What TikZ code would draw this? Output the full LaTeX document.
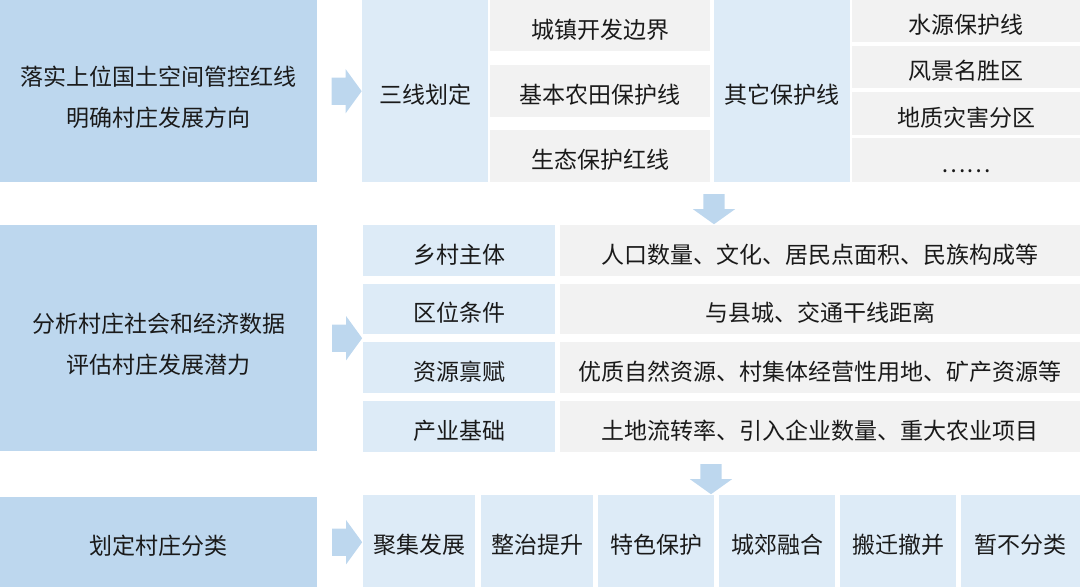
\documentclass[tikz,border=0pt]{standalone}
\usepackage{fontspec}
\setmainfont{Noto Sans CJK SC}
\usetikzlibrary{shapes.arrows, calc, positioning}

\definecolor{stageblue}{HTML}{BDD7EE}
\definecolor{itemblue}{HTML}{DDEBF7}
\definecolor{detailgrey}{HTML}{F2F2F2}
\definecolor{textdark}{HTML}{1A1A1A}

\newcommand{\lowerline}{\rule{0pt}{33pt}}

\tikzset{
  box/.style={inner sep=0pt, anchor=north west, text=textdark, align=center,
    font=\fontsize{23pt}{41pt}\selectfont,
    execute at begin node={\rule[-4pt]{0pt}{33pt}}},
  stage/.style={box, fill=stageblue},
  item/.style={box, fill=itemblue},
  detail/.style={box, fill=detailgrey},
  fatarrow/.style={single arrow, fill=stageblue, inner xsep=0pt, inner ysep=13.5pt,
    minimum height=30pt, single arrow head extend=8.5pt, single arrow tip angle=108},
  downarrow/.style={fatarrow, rotate=-90, inner ysep=10.5pt,
    single arrow head extend=10.5pt, single arrow tip angle=109},
}

\begin{document}
\begin{tikzpicture}[x=1pt, y=-1pt]
  \useasboundingbox (0,0) rectangle (1080,587);
  % first stage: red lines
  \node[stage, minimum width=317, minimum height=182] (goal1) at (0,0)
    {\lowerline 落实上位国土空间管控红线\\明确村庄发展方向};
  \node[item, minimum width=126, minimum height=182] (lines) at (362,0) {三线划定};
  \node[detail, minimum width=220, minimum height=51] (urban) at (490,0) {城镇开发边界};
  \node[detail, minimum width=220, minimum height=52] (farm) at (490,65) {基本农田保护线};
  \node[detail, minimum width=220, minimum height=52] (eco) at (490,130) {生态保护红线};
  \node[item, minimum width=136, minimum height=182] (other) at (714,0) {其它保护线};
  \node[detail, minimum width=228, minimum height=42] (water) at (852,0) {水源保护线};
  \node[detail, minimum width=228, minimum height=42] (scenic) at (852,46) {风景名胜区};
  \node[detail, minimum width=228, minimum height=43] (hazard) at (852,92) {地质灾害分区};
  \node[detail, minimum width=228, minimum height=44] (more) at (852,138) {……};
  % second stage: village data
  \node[stage, minimum width=317, minimum height=226] (goal2) at (0,225)
    {\lowerline 分析村庄社会和经济数据\\评估村庄发展潜力};
  \node[item, minimum width=192, minimum height=51] (people) at (363,225) {乡村主体};
  \node[item, minimum width=192, minimum height=50] (location) at (363,284) {区位条件};
  \node[item, minimum width=192, minimum height=51] (resource) at (363,342) {资源禀赋};
  \node[item, minimum width=192, minimum height=51] (industry) at (363,401) {产业基础};
  \node[detail, minimum width=520, minimum height=51] (peopleval) at (560,225)
    {人口数量、文化、居民点面积、民族构成等};
  \node[detail, minimum width=520, minimum height=50] (locationval) at (560,284)
    {与县城、交通干线距离};
  \node[detail, minimum width=520, minimum height=51] (resourceval) at (560,342)
    {优质自然资源、村集体经营性用地、矿产资源等};
  \node[detail, minimum width=520, minimum height=51] (industryval) at (560,401)
    {土地流转率、引入企业数量、重大农业项目};
  % third stage: classes
  \node[stage, minimum width=317, minimum height=90] (goal3) at (0,497) {划定村庄分类};
  \node[item, minimum width=112, minimum height=92] (gather) at (363,495) {聚集发展};
  \node[item, minimum width=112, minimum height=92] (improve) at (481,495) {整治提升};
  \node[item, minimum width=116, minimum height=92] (feature) at (598,495) {特色保护};
  \node[item, minimum width=116, minimum height=92] (suburb) at (719,495) {城郊融合};
  \node[item, minimum width=116, minimum height=92] (relocate) at (840,495) {搬迁撤并};
  \node[item, minimum width=119, minimum height=92] (pending) at (961,495) {暂不分类};
  % arrows
  \node[fatarrow] (go1) at ($(goal1.east)!0.5!(lines.west)+(2,0)$) {};
  \node[fatarrow] (go2) at ($(goal2.east)!0.5!(people.west |- goal2.east)+(2,0)$) {};
  \node[fatarrow] (go3) at ($(goal3.east)!0.5!(gather.west |- goal3.east)+(2,0)$) {};
  \node[downarrow] (down1) at ($(other.south west)+(0,23)$) {};
  \node[downarrow] (down2) at ($(industryval.south west)+(151,23)$) {};
\end{tikzpicture}
\end{document}
